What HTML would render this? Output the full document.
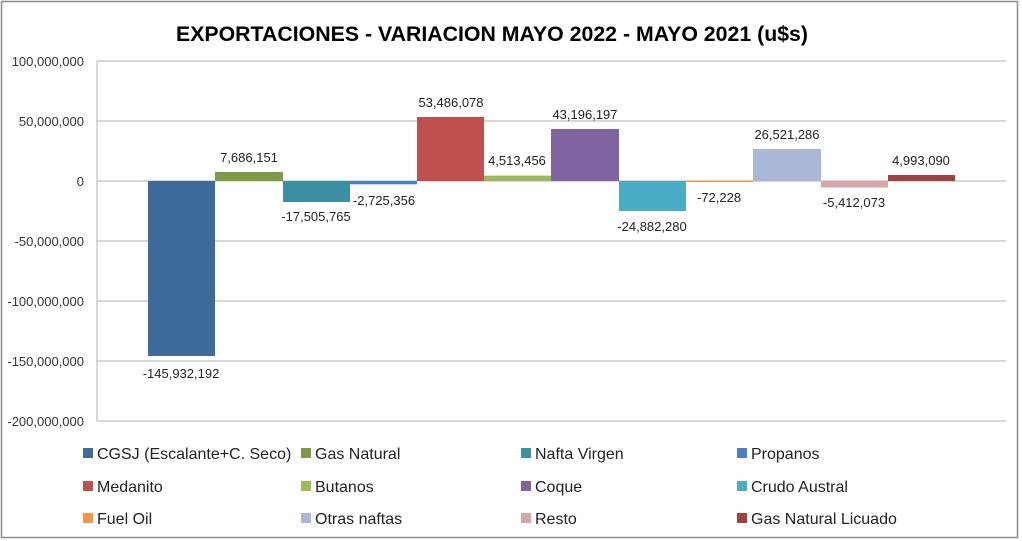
<!DOCTYPE html>
<html><head><meta charset="utf-8"><style>body{margin:0;background:#fff}svg{display:block}text{font-family:"Liberation Sans",sans-serif}</style></head><body>
<svg width="1022" height="541" viewBox="0 0 1022 541" xmlns="http://www.w3.org/2000/svg">
<rect x="1.5" y="1.5" width="1016" height="536" fill="#fff" stroke="#8a8a8a" stroke-width="1.5"/>
<text x="492" y="41" font-size="21" font-weight="bold" text-anchor="middle" fill="#000" textLength="632" lengthAdjust="spacingAndGlyphs">EXPORTACIONES - VARIACION MAYO 2022 - MAYO 2021 (u$s)</text>
<g stroke="#b0b0b0" stroke-width="1">
<line x1="97" y1="61" x2="1006" y2="61"/><line x1="97" y1="121" x2="1006" y2="121"/><line x1="97" y1="181" x2="1006" y2="181"/><line x1="97" y1="241" x2="1006" y2="241"/><line x1="97" y1="301" x2="1006" y2="301"/><line x1="97" y1="361" x2="1006" y2="361"/><line x1="97" y1="421" x2="1006" y2="421"/><line x1="97" y1="61" x2="97" y2="421"/>
</g>
<g font-size="13" fill="#333" text-anchor="end">
<text x="84" y="66">100,000,000</text><text x="84" y="126">50,000,000</text><text x="84" y="186">0</text><text x="84" y="246">-50,000,000</text><text x="84" y="306">-100,000,000</text><text x="84" y="366">-150,000,000</text><text x="84" y="426">-200,000,000</text>
</g>
<g>
<rect x="148" y="181" width="67" height="175" fill="#3F6A9C"/>
<rect x="215" y="172" width="68" height="9" fill="#7E9A45"/>
<rect x="283" y="181" width="67" height="21" fill="#3A8FA5"/>
<rect x="350" y="181" width="67" height="3.3" fill="#4A7EC0"/>
<rect x="417" y="117" width="67" height="64" fill="#C0504D"/>
<rect x="484" y="175.6" width="67" height="5.4" fill="#9BBB59"/>
<rect x="551" y="129" width="68" height="52" fill="#8064A2"/>
<rect x="619" y="181" width="67" height="30" fill="#4BACC6"/>
<rect x="686" y="180.5" width="67" height="1.5" fill="#F79646"/>
<rect x="753" y="149" width="68" height="32" fill="#A9B8D6"/>
<rect x="821" y="181" width="67" height="6.5" fill="#D9A5A5"/>
<rect x="888" y="175" width="67" height="6" fill="#A04040"/>
</g>
<g font-size="13" fill="#222" text-anchor="middle">
<text x="181" y="378">-145,932,192</text>
<text x="249" y="162">7,686,151</text>
<text x="316" y="221">-17,505,765</text>
<text x="384" y="205">-2,725,356</text>
<text x="451" y="107">53,486,078</text>
<text x="517" y="165">4,513,456</text>
<text x="585" y="119">43,196,197</text>
<text x="652" y="231">-24,882,280</text>
<text x="719" y="202">-72,228</text>
<text x="787" y="139">26,521,286</text>
<text x="854" y="207">-5,412,073</text>
<text x="921" y="165">4,993,090</text>
</g>
<g font-size="16" fill="#222">
<rect x="83" y="448" width="10" height="10" fill="#3F6A9C"/><text x="97" y="459">CGSJ (Escalante+C. Seco)</text>
<rect x="301" y="448" width="10" height="10" fill="#7E9A45"/><text x="315" y="459">Gas Natural</text>
<rect x="521" y="448" width="10" height="10" fill="#3A8FA5"/><text x="535" y="459">Nafta Virgen</text>
<rect x="737" y="448" width="10" height="10" fill="#4A7EC0"/><text x="751" y="459">Propanos</text>
<rect x="83" y="481" width="10" height="10" fill="#C0504D"/><text x="97" y="492">Medanito</text>
<rect x="301" y="481" width="10" height="10" fill="#9BBB59"/><text x="315" y="492">Butanos</text>
<rect x="521" y="481" width="10" height="10" fill="#8064A2"/><text x="535" y="492">Coque</text>
<rect x="737" y="481" width="10" height="10" fill="#4BACC6"/><text x="751" y="492">Crudo Austral</text>
<rect x="83" y="513" width="10" height="10" fill="#F79646"/><text x="97" y="524">Fuel Oil</text>
<rect x="301" y="513" width="10" height="10" fill="#A9B8D6"/><text x="315" y="524">Otras naftas</text>
<rect x="521" y="513" width="10" height="10" fill="#D9A5A5"/><text x="535" y="524">Resto</text>
<rect x="737" y="513" width="10" height="10" fill="#A04040"/><text x="751" y="524">Gas Natural Licuado</text>
</g>
</svg>
</body></html>
